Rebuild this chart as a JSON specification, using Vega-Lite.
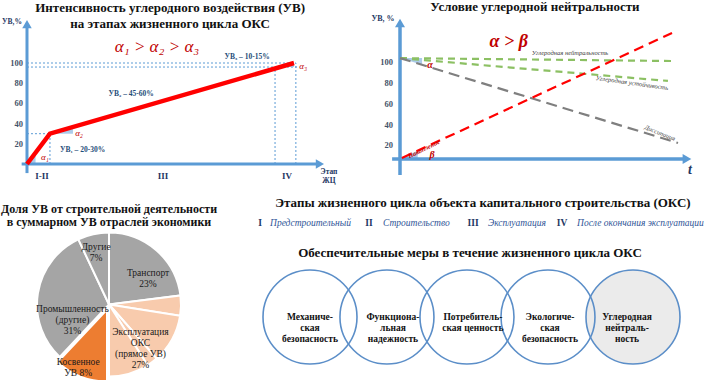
{
 "$schema": "https://vega.github.io/schema/vega-lite/v6.json",
 "background": "white",
 "padding": 0,
 "spacing": 0,
 "resolve": {"scale": {"color": "independent", "shape": "independent", "strokeDash": "independent", "theta": "independent"}},
 "config": {"view": {"stroke": null}, "font": "Liberation Serif", "text": {"font": "Liberation Serif"}},
 "datasets": {
  "a_line": [{"x":0,"y":0},{"x":8.6,"y":30},{"x":100,"y":100}],
  "a_guides": [
   {"x":0,"y":30,"x2":8.6,"y2":30},
   {"x":8.6,"y":0,"x2":8.6,"y2":30},
   {"x":0,"y":100,"x2":100.7,"y2":100},
   {"x":0,"y":96,"x2":101.5,"y2":96},
   {"x":92.9,"y":0,"x2":92.9,"y2":96},
   {"x":100.7,"y":0,"x2":100.7,"y2":100}],
  "a_shade": [
   {"g":"a1","x":0,"y":0,"y0":0},{"g":"a1","x":3.2,"y":11.2,"y0":0},
   {"g":"a2","x":8.6,"y":30,"y0":30},{"g":"a2","x":17.2,"y":36.6,"y0":30},
   {"g":"a3","x":94.8,"y":96,"y0":96},{"g":"a3","x":100,"y":100,"y0":96}],
  "a_axes": [{"x":0,"y":-9,"x2":0,"y2":138.6},{"x":-2,"y":0,"x2":109.7,"y2":0}],
  "a_arrows": [{"x":0,"y":138.6,"d":"up"},{"x":109.7,"y":0,"d":"right"}],
  "a_ticks": [{"x":-1.5,"y":20,"t":"20"},{"x":-1.5,"y":40,"t":"40"},{"x":-1.5,"y":60,"t":"60"},{"x":-1.5,"y":80,"t":"80"},{"x":-1.5,"y":100,"t":"100"}],
  "a_title": [{"x":53.6,"y":154.9,"t":"Интенсивность углеродного воздействия (УВ)"},{"x":53.6,"y":139.1,"t":"на этапах жизненного цикла ОКС"}],
  "a_formula": [{"x":48.7,"y":115.8,"t":"α₁ > α₂ > α₃"}],
  "a_alpha": [{"x":6.7,"y":6.9,"t":"α₁"},{"x":19.5,"y":30.7,"t":"α₂"},{"x":103.4,"y":97,"t":"α₃"}],
  "a_uv": [{"x":82.4,"y":106,"t":"УВ₃ – 10-15%"},{"x":39,"y":69.3,"t":"УВ₂ – 45-60%"},{"x":20.8,"y":13.9,"t":"УВ₁ – 20-30%"}],
  "a_stage": [{"x":5.6,"y":-11.9,"t":"I-II"},{"x":50.9,"y":-11.9,"t":"III"},{"x":97.4,"y":-11.9,"t":"IV"}],
  "a_small": [{"x":113.1,"y":-7.9,"t":"Этап"},{"x":113.1,"y":-16.8,"t":"ЖЦ"},{"x":-5.6,"y":140.6,"t":"УВ,%"}],
  "b_lines": [
   {"s":"neutral","x":0,"y":104},{"s":"neutral","x":100,"y":101.2},
   {"s":"sustain","x":0,"y":104},{"s":"sustain","x":98.5,"y":82},
   {"s":"dissip","x":0,"y":104},{"s":"dissip","x":102.2,"y":22.2},
   {"s":"accum","x":0.7,"y":7.7},{"s":"accum","x":100,"y":128.2}],
  "b_shade": [
   {"g":"a","x":0,"y":104,"y0":104},{"g":"a","x":8.1,"y":104,"y0":97.5},
   {"g":"b","x":0.7,"y":7.7,"y0":7.7},{"g":"b","x":6.5,"y":14.7,"y0":7.7}],
  "b_axes": [{"x":0,"y":-8.7,"x2":0,"y2":137.8},{"x":-2.9,"y":6.7,"x2":105.5,"y2":6.7}],
  "b_arrows": [{"x":0,"y":137.8,"d":"up"},{"x":105.5,"y":6.7,"d":"right"}],
  "b_ticks": [{"x":-2.6,"y":20,"t":"20"},{"x":-2.6,"y":40,"t":"40"},{"x":-2.6,"y":60,"t":"60"},{"x":-2.6,"y":80,"t":"80"},{"x":-2.6,"y":100,"t":"100"}],
  "b_title": [{"x":49.6,"y":153.3,"t":"Условие углеродной нейтральности"}],
  "b_formula": [{"x":40,"y":119.5,"t":"α > β"}],
  "b_greek": [{"x":11,"y":97.3,"t":"α"},{"x":11.8,"y":11,"t":"β"}],
  "b_notes": [
   {"x":62.5,"y":109,"t":"Углеродная нейтральность","a":0},
   {"x":85.3,"y":80,"t":"Углеродная устойчивость","a":8},
   {"x":95.6,"y":31.8,"t":"Диссипация","a":22}],
  "b_acc": [{"x":8.8,"y":16.4,"t":"Накопление"}],
  "b_small": [{"x":-6.25,"y":141.7,"t":"УВ, %"}],
  "b_t": [{"x":106.6,"y":-3.9,"t":"t"}],
  "c_title": [{"t":"Доля УВ от строительной деятельности\nв суммарном УВ отраслей экономики"}],
  "pie": [
   {"cat":"Транспорт","ord":1,"v":23},
   {"cat":"Эксплуатация ОКС","ord":2,"v":4.5},
   {"cat":"Эксплуатация ОКС","ord":3,"v":11},
   {"cat":"Эксплуатация ОКС","ord":4,"v":2.5},
   {"cat":"Эксплуатация ОКС","ord":5,"v":9},
   {"cat":"Косвенное УВ","ord":6,"v":12},
   {"cat":"Промышленность (другие)","ord":7,"v":31},
   {"cat":"Другие","ord":8,"v":7}],
  "pie_lab": [
   {"cat":"Транспорт","ord":1,"v":23,"lab":"Транспорт\n23%"},
   {"cat":"Эксплуатация ОКС","ord":2,"v":27,"lab":"Эксплуатация\nОКС\n(прямое УВ)\n27%"},
   {"cat":"Косвенное УВ","ord":3,"v":12,"lab":"Косвенное\nУВ  8%"},
   {"cat":"Промышленность (другие)","ord":4,"v":31,"lab":"Промышленность\n(другие)\n31%"},
   {"cat":"Другие","ord":5,"v":7,"lab":"Другие\n7%"}],
  "d_circ": [
   {"i":1,"x":1.0,"tx":1.0,"y":127,"lab":"Механиче-\nская\nбезопасность"},
   {"i":2,"x":1.953,"tx":2.027,"y":127,"lab":"Функциона-\nльная\nнадежность"},
   {"i":3,"x":2.944,"tx":3.017,"y":127,"lab":"Потребитель-\nская ценность"},
   {"i":4,"x":3.947,"tx":3.972,"y":127,"lab":"Экологиче-\nская\nбезопасность"},
   {"i":5,"x":5.0,"tx":4.926,"y":127,"lab":"Углеродная\nнейтраль-\nность"}],
  "d_title": [
   {"x":3.142,"y":13,"t":"Этапы жизненного цикла объекта капитального строительства (ОКС)"},
   {"x":2.981,"y":63,"t":"Обеспечительные меры в течение жизненного цикла ОКС"}],
  "d_num": [{"x":0.381,"y":33,"t":"I"},{"x":1.731,"y":33,"t":"II"},{"x":3.019,"y":33,"t":"III"},{"x":4.121,"y":33,"t":"IV"}],
  "d_names": [{"x":0.505,"y":33,"t":"Предстроительный"},{"x":1.904,"y":33,"t":"Строительство"},{"x":3.204,"y":33,"t":"Эксплуатация"},{"x":4.307,"y":33,"t":"После окончания эксплуатации"}]
 },
 "vconcat": [
  {"hconcat": [
   {"width": 340, "height": 190, "layer": [
    {"data":{"name":"a_guides"},"mark":{"type":"rule","color":"#5b9bd5","strokeWidth":1,"strokeDash":[2,2]},
     "encoding":{"x":{"field":"x","type":"quantitative","scale":{"domain":[-10.11,117.23],"nice":false,"zero":false},"axis":null},"y":{"field":"y","type":"quantitative","scale":{"domain":[-25.74,162.38],"nice":false,"zero":false},"axis":null},"x2":{"field":"x2"},"y2":{"field":"y2"}}},
    {"data":{"name":"a_shade"},"mark":{"type":"area","color":"#9dc3e6","opacity":0.85},
     "encoding":{"x":{"field":"x","type":"quantitative","scale":{"domain":[-10.11,117.23],"nice":false,"zero":false},"axis":null},"y":{"field":"y","type":"quantitative","scale":{"domain":[-25.74,162.38],"nice":false,"zero":false},"axis":null},"y2":{"field":"y0"},"detail":{"field":"g"}}},
    {"data":{"name":"a_axes"},"mark":{"type":"rule","color":"#5b9bd5","strokeWidth":3},
     "encoding":{"x":{"field":"x","type":"quantitative","scale":{"domain":[-10.11,117.23],"nice":false,"zero":false},"axis":null},"y":{"field":"y","type":"quantitative","scale":{"domain":[-25.74,162.38],"nice":false,"zero":false},"axis":null},"x2":{"field":"x2"},"y2":{"field":"y2"}}},
    {"data":{"name":"a_arrows"},"mark":{"type":"point","filled":true,"size":90,"color":"#5b9bd5","opacity":1},
     "encoding":{"x":{"field":"x","type":"quantitative","scale":{"domain":[-10.11,117.23],"nice":false,"zero":false},"axis":null},"y":{"field":"y","type":"quantitative","scale":{"domain":[-25.74,162.38],"nice":false,"zero":false},"axis":null},"shape":{"field":"d","type":"nominal","scale":{"domain":["up","right"],"range":["triangle-up","triangle-right"]},"legend":null}}},
    {"data":{"name":"a_line"},"mark":{"type":"line","color":"#ff0000","strokeWidth":4.5},
     "encoding":{"x":{"field":"x","type":"quantitative","scale":{"domain":[-10.11,117.23],"nice":false,"zero":false},"axis":null},"y":{"field":"y","type":"quantitative","scale":{"domain":[-25.74,162.38],"nice":false,"zero":false},"axis":null}}},
    {"data":{"name":"a_ticks"},"mark":{"type":"text","font":"Liberation Serif","fontSize":8.5,"fontWeight":"bold","color":"#44546a","align":"right"},
     "encoding":{"x":{"field":"x","type":"quantitative","scale":{"domain":[-10.11,117.23],"nice":false,"zero":false},"axis":null},"y":{"field":"y","type":"quantitative","scale":{"domain":[-25.74,162.38],"nice":false,"zero":false},"axis":null},"text":{"field":"t"}}},
    {"data":{"name":"a_title"},"mark":{"type":"text","font":"Liberation Serif","fontSize":13,"fontWeight":"bold","color":"#111111"},
     "encoding":{"x":{"field":"x","type":"quantitative","scale":{"domain":[-10.11,117.23],"nice":false,"zero":false},"axis":null},"y":{"field":"y","type":"quantitative","scale":{"domain":[-25.74,162.38],"nice":false,"zero":false},"axis":null},"text":{"field":"t"}}},
    {"data":{"name":"a_formula"},"mark":{"type":"text","font":"Liberation Serif","fontSize":17,"fontStyle":"italic","color":"#c00000"},
     "encoding":{"x":{"field":"x","type":"quantitative","scale":{"domain":[-10.11,117.23],"nice":false,"zero":false},"axis":null},"y":{"field":"y","type":"quantitative","scale":{"domain":[-25.74,162.38],"nice":false,"zero":false},"axis":null},"text":{"field":"t"}}},
    {"data":{"name":"a_alpha"},"mark":{"type":"text","font":"Liberation Serif","fontSize":9,"fontStyle":"italic","color":"#c00000"},
     "encoding":{"x":{"field":"x","type":"quantitative","scale":{"domain":[-10.11,117.23],"nice":false,"zero":false},"axis":null},"y":{"field":"y","type":"quantitative","scale":{"domain":[-25.74,162.38],"nice":false,"zero":false},"axis":null},"text":{"field":"t"}}},
    {"data":{"name":"a_uv"},"mark":{"type":"text","font":"Liberation Serif","fontSize":7.5,"fontWeight":"bold","color":"#1f4e79"},
     "encoding":{"x":{"field":"x","type":"quantitative","scale":{"domain":[-10.11,117.23],"nice":false,"zero":false},"axis":null},"y":{"field":"y","type":"quantitative","scale":{"domain":[-25.74,162.38],"nice":false,"zero":false},"axis":null},"text":{"field":"t"}}},
    {"data":{"name":"a_stage"},"mark":{"type":"text","font":"Liberation Serif","fontSize":9,"fontWeight":"bold","color":"#1f3864"},
     "encoding":{"x":{"field":"x","type":"quantitative","scale":{"domain":[-10.11,117.23],"nice":false,"zero":false},"axis":null},"y":{"field":"y","type":"quantitative","scale":{"domain":[-25.74,162.38],"nice":false,"zero":false},"axis":null},"text":{"field":"t"}}},
    {"data":{"name":"a_small"},"mark":{"type":"text","font":"Liberation Serif","fontSize":7.5,"fontWeight":"bold","color":"#1f3864"},
     "encoding":{"x":{"field":"x","type":"quantitative","scale":{"domain":[-10.11,117.23],"nice":false,"zero":false},"axis":null},"y":{"field":"y","type":"quantitative","scale":{"domain":[-25.74,162.38],"nice":false,"zero":false},"axis":null},"text":{"field":"t"}}}
   ]},
   {"width": 369, "height": 190, "layer": [
    {"data":{"name":"b_shade"},"mark":{"type":"area","color":"#9dc3e6","opacity":0.85},
     "encoding":{"x":{"field":"x","type":"quantitative","scale":{"domain":[-22.06,113.6],"nice":false,"zero":false},"axis":null},"y":{"field":"y","type":"quantitative","scale":{"domain":[-23.13,160.0],"nice":false,"zero":false},"axis":null},"y2":{"field":"y0"},"detail":{"field":"g"}}},
    {"data":{"name":"b_axes"},"mark":{"type":"rule","color":"#5b9bd5","strokeWidth":3.5},
     "encoding":{"x":{"field":"x","type":"quantitative","scale":{"domain":[-22.06,113.6],"nice":false,"zero":false},"axis":null},"y":{"field":"y","type":"quantitative","scale":{"domain":[-23.13,160.0],"nice":false,"zero":false},"axis":null},"x2":{"field":"x2"},"y2":{"field":"y2"}}},
    {"data":{"name":"b_arrows"},"mark":{"type":"point","filled":true,"size":100,"color":"#5b9bd5","opacity":1},
     "encoding":{"x":{"field":"x","type":"quantitative","scale":{"domain":[-22.06,113.6],"nice":false,"zero":false},"axis":null},"y":{"field":"y","type":"quantitative","scale":{"domain":[-23.13,160.0],"nice":false,"zero":false},"axis":null},"shape":{"field":"d","type":"nominal","scale":{"domain":["up","right"],"range":["triangle-up","triangle-right"]},"legend":null}}},
    {"data":{"name":"b_lines"},"mark":{"type":"line","strokeWidth":2.2},
     "encoding":{"x":{"field":"x","type":"quantitative","scale":{"domain":[-22.06,113.6],"nice":false,"zero":false},"axis":null},"y":{"field":"y","type":"quantitative","scale":{"domain":[-23.13,160.0],"nice":false,"zero":false},"axis":null},
      "color":{"field":"s","type":"nominal","scale":{"domain":["neutral","sustain","dissip","accum"],"range":["#8cc063","#8cc063","#7f7f7f","#ff0000"]},"legend":null},
      "strokeDash":{"field":"s","type":"nominal","scale":{"domain":["neutral","sustain","dissip","accum"],"range":[[7,5],[7,5],[11,6],[10,6]]},"legend":null}}},
    {"data":{"name":"b_ticks"},"mark":{"type":"text","font":"Liberation Serif","fontSize":8.5,"fontWeight":"bold","color":"#44546a","align":"right"},
     "encoding":{"x":{"field":"x","type":"quantitative","scale":{"domain":[-22.06,113.6],"nice":false,"zero":false},"axis":null},"y":{"field":"y","type":"quantitative","scale":{"domain":[-23.13,160.0],"nice":false,"zero":false},"axis":null},"text":{"field":"t"}}},
    {"data":{"name":"b_title"},"mark":{"type":"text","font":"Liberation Serif","fontSize":13,"fontWeight":"bold","color":"#111111"},
     "encoding":{"x":{"field":"x","type":"quantitative","scale":{"domain":[-22.06,113.6],"nice":false,"zero":false},"axis":null},"y":{"field":"y","type":"quantitative","scale":{"domain":[-23.13,160.0],"nice":false,"zero":false},"axis":null},"text":{"field":"t"}}},
    {"data":{"name":"b_formula"},"mark":{"type":"text","font":"Liberation Serif","fontSize":18,"fontStyle":"italic","fontWeight":"bold","color":"#c00000"},
     "encoding":{"x":{"field":"x","type":"quantitative","scale":{"domain":[-22.06,113.6],"nice":false,"zero":false},"axis":null},"y":{"field":"y","type":"quantitative","scale":{"domain":[-23.13,160.0],"nice":false,"zero":false},"axis":null},"text":{"field":"t"}}},
    {"data":{"name":"b_greek"},"mark":{"type":"text","font":"Liberation Serif","fontSize":10,"fontStyle":"italic","fontWeight":"bold","color":"#c00000"},
     "encoding":{"x":{"field":"x","type":"quantitative","scale":{"domain":[-22.06,113.6],"nice":false,"zero":false},"axis":null},"y":{"field":"y","type":"quantitative","scale":{"domain":[-23.13,160.0],"nice":false,"zero":false},"axis":null},"text":{"field":"t"}}},
    {"data":{"name":"b_notes"},"mark":{"type":"text","font":"Liberation Serif","fontSize":6.5,"fontStyle":"italic","color":"#404040"},
     "encoding":{"x":{"field":"x","type":"quantitative","scale":{"domain":[-22.06,113.6],"nice":false,"zero":false},"axis":null},"y":{"field":"y","type":"quantitative","scale":{"domain":[-23.13,160.0],"nice":false,"zero":false},"axis":null},"text":{"field":"t"},"angle":{"field":"a","type":"quantitative","scale":null}}},
    {"data":{"name":"b_acc"},"mark":{"type":"text","font":"Liberation Serif","fontSize":6.5,"fontStyle":"italic","fontWeight":"bold","color":"#c00000","angle":334},
     "encoding":{"x":{"field":"x","type":"quantitative","scale":{"domain":[-22.06,113.6],"nice":false,"zero":false},"axis":null},"y":{"field":"y","type":"quantitative","scale":{"domain":[-23.13,160.0],"nice":false,"zero":false},"axis":null},"text":{"field":"t"}}},
    {"data":{"name":"b_small"},"mark":{"type":"text","font":"Liberation Serif","fontSize":8,"fontWeight":"bold","color":"#1f3864"},
     "encoding":{"x":{"field":"x","type":"quantitative","scale":{"domain":[-22.06,113.6],"nice":false,"zero":false},"axis":null},"y":{"field":"y","type":"quantitative","scale":{"domain":[-23.13,160.0],"nice":false,"zero":false},"axis":null},"text":{"field":"t"}}},
    {"data":{"name":"b_t"},"mark":{"type":"text","font":"Liberation Serif","fontSize":14,"fontStyle":"italic","fontWeight":"bold","color":"#1f3864"},
     "encoding":{"x":{"field":"x","type":"quantitative","scale":{"domain":[-22.06,113.6],"nice":false,"zero":false},"axis":null},"y":{"field":"y","type":"quantitative","scale":{"domain":[-23.13,160.0],"nice":false,"zero":false},"axis":null},"text":{"field":"t"}}}
   ]}
  ], "spacing": 0, "bounds": "flush"},
  {"hconcat": [
   {"vconcat": [
    {"width": 218, "height": 37, "data": {"name": "c_title"},
     "mark": {"type":"text","font":"Liberation Serif","fontSize":12,"fontWeight":"bold","color":"#111111","lineBreak":"\n","lineHeight":13.5},
     "encoding": {"text": {"field":"t"}}},
    {"width": 218, "height": 153, "layer": [
     {"data":{"name":"pie"},"mark":{"type":"arc","radius":72,"stroke":"white","strokeWidth":2},
      "encoding":{"theta":{"field":"v","type":"quantitative","stack":true},"order":{"field":"ord","type":"quantitative"},
       "color":{"field":"cat","type":"nominal","scale":{"domain":["Транспорт","Эксплуатация ОКС","Косвенное УВ","Промышленность (другие)","Другие"],"range":["#a5a5a5","#f8cbad","#ed7d31","#a5a5a5","#a5a5a5"]},"legend":null},
       "opacity":{"condition":{"test":"datum.cat !== 'Косвенное УВ'","value":1},"value":0}}},
     {"data":{"name":"pie"},"mark":{"type":"arc","radius":72,"stroke":"white","strokeWidth":2,"xOffset":-2,"yOffset":5},
      "encoding":{"theta":{"field":"v","type":"quantitative","stack":true},"order":{"field":"ord","type":"quantitative"},
       "color":{"field":"cat","type":"nominal","scale":{"domain":["Транспорт","Эксплуатация ОКС","Косвенное УВ","Промышленность (другие)","Другие"],"range":["#a5a5a5","#f8cbad","#ed7d31","#a5a5a5","#a5a5a5"]},"legend":null},
       "opacity":{"condition":{"test":"datum.cat === 'Косвенное УВ'","value":1},"value":0}}},
     {"data":{"name":"pie_lab"},"mark":{"type":"text","font":"Liberation Serif","radius":50,"dx":6,"dy":6,"fontSize":9.5,"color":"#1a1a1a","lineBreak":"\n","lineHeight":11},
      "encoding":{"theta":{"field":"v","type":"quantitative","stack":true},"order":{"field":"ord","type":"quantitative"},"text":{"field":"lab"},
       "opacity":{"condition":{"test":"datum.cat === 'Транспорт'","value":1},"value":0}}},
     {"data":{"name":"pie_lab"},"mark":{"type":"text","font":"Liberation Serif","radius":42,"fontSize":9.5,"color":"#1a1a1a","lineBreak":"\n","lineHeight":11},
      "encoding":{"theta":{"field":"v","type":"quantitative","stack":true},"order":{"field":"ord","type":"quantitative"},"text":{"field":"lab"},
       "opacity":{"condition":{"test":"datum.cat === 'Эксплуатация ОКС'","value":1},"value":0}}},
     {"data":{"name":"pie_lab"},"mark":{"type":"text","font":"Liberation Serif","radius":62,"dx":-8,"fontSize":9.5,"color":"#1a1a1a","lineBreak":"\n","lineHeight":11},
      "encoding":{"theta":{"field":"v","type":"quantitative","stack":true},"order":{"field":"ord","type":"quantitative"},"text":{"field":"lab"},
       "opacity":{"condition":{"test":"datum.cat === 'Косвенное УВ'","value":1},"value":0}}},
     {"data":{"name":"pie_lab"},"mark":{"type":"text","font":"Liberation Serif","radius":37,"dy":10,"fontSize":9.5,"color":"#1a1a1a","lineBreak":"\n","lineHeight":11},
      "encoding":{"theta":{"field":"v","type":"quantitative","stack":true},"order":{"field":"ord","type":"quantitative"},"text":{"field":"lab"},
       "opacity":{"condition":{"test":"datum.cat === 'Промышленность (другие)'","value":1},"value":0}}},
     {"data":{"name":"pie_lab"},"mark":{"type":"text","font":"Liberation Serif","radius":59,"fontSize":9.5,"color":"#1a1a1a","lineBreak":"\n","lineHeight":11},
      "encoding":{"theta":{"field":"v","type":"quantitative","stack":true},"order":{"field":"ord","type":"quantitative"},"text":{"field":"lab"},
       "opacity":{"condition":{"test":"datum.cat === 'Другие'","value":1},"value":0}}}
    ]}
   ], "spacing": 0},
   {"width": 491, "height": 190, "layer": [
    {"data":{"name":"d_circ"},"transform":[{"filter":"datum.i === 5"}],"mark":{"type":"point","shape":"circle","filled":true,"size":8836,"color":"#ebebeb","opacity":1},
     "encoding":{"x":{"field":"x","type":"quantitative","scale":{"domain":[-0.1393,5.9412],"nice":false,"zero":false},"axis":null},"y":{"field":"y","type":"quantitative","scale":{"domain":[0,190],"nice":false,"zero":false,"reverse":true},"axis":null}}},
    {"data":{"name":"d_circ"},"mark":{"type":"point","shape":"circle","filled":false,"size":8836,"color":"#5b8ec8","strokeWidth":1.6,"opacity":1},
     "encoding":{"x":{"field":"x","type":"quantitative","scale":{"domain":[-0.1393,5.9412],"nice":false,"zero":false},"axis":null},"y":{"field":"y","type":"quantitative","scale":{"domain":[0,190],"nice":false,"zero":false,"reverse":true},"axis":null}}},
    {"data":{"name":"d_circ"},"mark":{"type":"text","font":"Liberation Serif","fontSize":9.5,"fontWeight":"bold","color":"#111111","lineBreak":"\n","lineHeight":11},
     "encoding":{"x":{"field":"tx","type":"quantitative","scale":{"domain":[-0.1393,5.9412],"nice":false,"zero":false},"axis":null},"y":{"field":"y","type":"quantitative","scale":{"domain":[0,190],"nice":false,"zero":false,"reverse":true},"axis":null},"text":{"field":"lab"}}},
    {"data":{"name":"d_title"},"mark":{"type":"text","font":"Liberation Serif","fontSize":13,"fontWeight":"bold","color":"#111111"},
     "encoding":{"x":{"field":"x","type":"quantitative","scale":{"domain":[-0.1393,5.9412],"nice":false,"zero":false},"axis":null},"y":{"field":"y","type":"quantitative","scale":{"domain":[0,190],"nice":false,"zero":false,"reverse":true},"axis":null},"text":{"field":"t"}}},
    {"data":{"name":"d_num"},"mark":{"type":"text","font":"Liberation Serif","fontSize":9.5,"fontWeight":"bold","color":"#1f3864"},
     "encoding":{"x":{"field":"x","type":"quantitative","scale":{"domain":[-0.1393,5.9412],"nice":false,"zero":false},"axis":null},"y":{"field":"y","type":"quantitative","scale":{"domain":[0,190],"nice":false,"zero":false,"reverse":true},"axis":null},"text":{"field":"t"}}},
    {"data":{"name":"d_names"},"mark":{"type":"text","font":"Liberation Serif","fontSize":9.5,"fontStyle":"italic","color":"#2f5597","align":"left"},
     "encoding":{"x":{"field":"x","type":"quantitative","scale":{"domain":[-0.1393,5.9412],"nice":false,"zero":false},"axis":null},"y":{"field":"y","type":"quantitative","scale":{"domain":[0,190],"nice":false,"zero":false,"reverse":true},"axis":null},"text":{"field":"t"}}}
   ]}
  ], "spacing": 0}
 ]
}
